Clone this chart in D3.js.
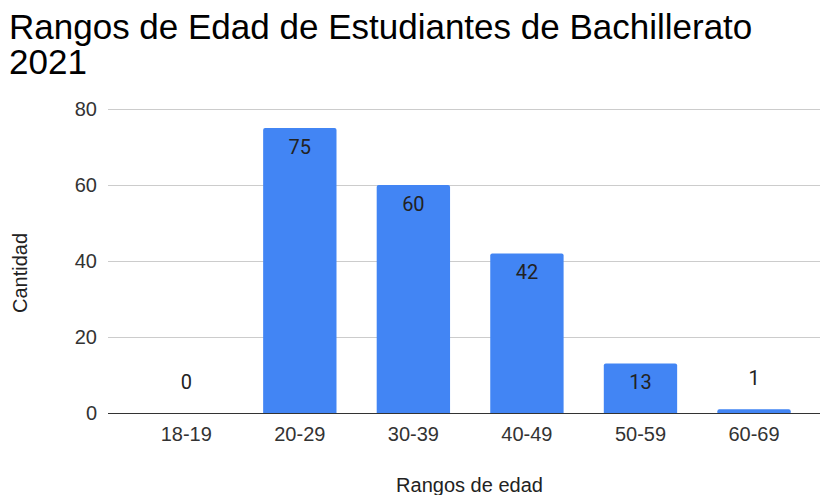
<!DOCTYPE html>
<html>
<head>
<meta charset="utf-8">
<script src="https://cdn.jsdelivr.net/npm/d3@7"></script>
<style>
  html, body { margin: 0; padding: 0; background: #fff; }
  svg { display: block; }
</style>
</head>
<body>
<svg id="chart" width="820" height="495"></svg>
<script>
const categories = ["18-19", "20-29", "30-39", "40-49", "50-59", "60-69"];
const values = [0, 75, 60, 42, 13, 1];
const yTicks = [0, 20, 40, 60, 80];
const titleLines = ["Rangos de Edad de Estudiantes de Bachillerato", "2021"];
const xTitle = "Rangos de edad";
const yTitle = "Cantidad";

const svg = d3.select("#chart");
const W = 820, H = 495;
const plot = { left: 108, right: 820, top: 109, bottom: 413 };

const x = d3.scaleBand()
  .domain(categories)
  .range([129.5, 810.8])
  .paddingInner(0.354)
  .paddingOuter(0.177);

const y = d3.scaleLinear().domain([0, 80]).range([plot.bottom, plot.top]);

// Title
svg.append("g").selectAll("text").data(titleLines).join("text")
  .attr("x", 9)
  .attr("y", (d, i) => 39 + i * 35)
  .attr("font-family", "'Liberation Sans', Arial, sans-serif")
  .attr("font-size", 35)
  .attr("fill", "#000")
  .text(d => d);

// Gridlines
svg.append("g").selectAll("line").data(yTicks.filter(t => t !== 0)).join("line")
  .attr("x1", plot.left).attr("x2", plot.right)
  .attr("y1", d => Math.round(y(d)) + 0.5).attr("y2", d => Math.round(y(d)) + 0.5)
  .attr("stroke", "#cccccc").attr("stroke-width", 1);

// Y tick labels
svg.append("g").selectAll("text").data(yTicks).join("text")
  .attr("x", 97)
  .attr("y", d => y(d))
  .attr("dy", "0.35em")
  .attr("text-anchor", "end")
  .attr("font-family", "'Liberation Sans', Arial, sans-serif")
  .attr("font-size", 20)
  .attr("fill", "#333")
  .text(d => d);

// Bars with slightly rounded top corners
const r = 2;
function barPath(d, i) {
  const x0 = x(categories[i]), w = x.bandwidth();
  const y0 = y(d), yb = y(0);
  const h = yb - y0;
  if (h <= 0) return "";
  const rr = Math.min(r, h);
  return `M${x0},${yb}V${y0 + rr}Q${x0},${y0} ${x0 + rr},${y0}H${x0 + w - rr}Q${x0 + w},${y0} ${x0 + w},${y0 + rr}V${yb}Z`;
}
svg.append("g").selectAll("path").data(values).join("path")
  .attr("d", (d, i) => barPath(d, i))
  .attr("fill", "#4285F4");

// Baseline
svg.append("line")
  .attr("x1", plot.left).attr("x2", plot.right)
  .attr("y1", y(0) + 0.5).attr("y2", y(0) + 0.5)
  .attr("stroke", "#333").attr("stroke-width", 1);

// Value labels
svg.append("g").selectAll("text").data(values).join("text")
  .attr("x", (d, i) => x(categories[i]) + x.bandwidth() / 2)
  .attr("y", d => (y(0) - y(d) > 30) ? y(d) + 25.5 : y(d) - 24.5)
  .attr("text-anchor", "middle")
  .attr("font-family", "Roboto, 'Liberation Sans', Arial, sans-serif")
  .attr("font-size", 20)
  .attr("fill", "#222")
  .text(d => d);

// X tick labels
svg.append("g").selectAll("text").data(categories).join("text")
  .attr("x", d => x(d) + x.bandwidth() / 2)
  .attr("y", 441)
  .attr("text-anchor", "middle")
  .attr("font-family", "'Liberation Sans', Arial, sans-serif")
  .attr("font-size", 20)
  .attr("fill", "#333")
  .text(d => d);

// Axis titles
svg.append("text")
  .attr("x", 469.5).attr("y", 492)
  .attr("text-anchor", "middle")
  .attr("font-family", "'Liberation Sans', Arial, sans-serif")
  .attr("font-size", 20)
  .attr("fill", "#222")
  .text(xTitle);

svg.append("text")
  .attr("transform", "translate(27,273) rotate(-90)")
  .attr("text-anchor", "middle")
  .attr("font-family", "'Liberation Sans', Arial, sans-serif")
  .attr("font-size", 20)
  .attr("fill", "#222")
  .text(yTitle);
</script>
</body>
</html>
